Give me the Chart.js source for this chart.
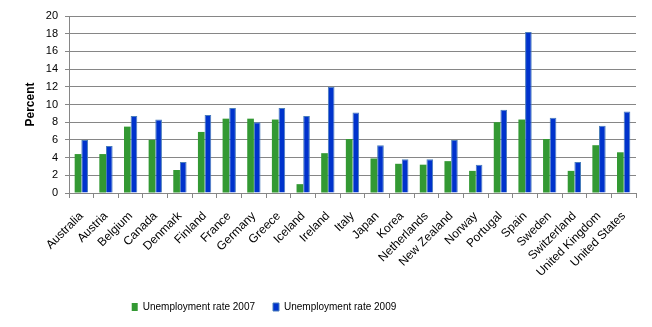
<!DOCTYPE html>
<html>
<head>
<meta charset="utf-8">
<script src="https://cdn.jsdelivr.net/npm/chart.js@4/dist/chart.umd.min.js"></script>
<style>
html,body{margin:0;padding:0;background:#fff;}
#wrap{width:652px;height:327px;position:relative;}
</style>
</head>
<body>
<div id="wrap"><canvas id="c" width="652" height="327"></canvas></div>
<script>
const categories = ["Australia","Austria","Belgium","Canada","Denmark","Finland","France","Germany","Greece","Iceland","Ireland","Italy","Japan","Korea","Netherlands","New Zealand","Norway","Portugal","Spain","Sweden","Switzerland","United Kingdom","United States"];
const rate2007 = [4.4,4.4,7.5,6.0,2.6,6.9,8.4,8.4,8.3,1.0,4.5,6.1,3.9,3.3,3.2,3.6,2.5,8.0,8.3,6.1,2.5,5.4,4.6];
const rate2009 = [6.0,5.3,8.7,8.3,3.5,8.8,9.6,8.0,9.6,8.7,12.0,9.1,5.4,3.8,3.8,6.0,3.2,9.4,18.2,8.5,3.5,7.6,9.2];
const seriesNames = ["Unemployment rate 2007","Unemployment rate 2009"];
const yTicks = {min:0,max:20,step:2};

const FONT = "'Liberation Sans', Arial, sans-serif";
Chart.defaults.font.family = FONT;
Chart.defaults.font.size = 11;
Chart.defaults.color = "#000";

const legendShift = {
  id: 'legendShift',
  afterLayout(chart) {
    const lg = chart.legend;
    if (lg) { lg.left -= 54; lg.right -= 54; }
  }
};

new Chart(document.getElementById('c'), {
  type: 'bar',
  data: {
    labels: categories,
    datasets: [
      {label: seriesNames[0], data: rate2007, backgroundColor: '#339933', borderWidth: 0},
      {label: seriesNames[1], data: rate2009, backgroundColor: '#0033CC', borderColor: '#4A7EBB', borderWidth: 1}
    ]
  },
  plugins: [legendShift],
  options: {
    responsive: false,
    animation: false,
    layout: {padding: {top: 16, right: 16, bottom: 5, left: 0}},
    datasets: {bar: {categoryPercentage: 0.54, barPercentage: 1.0}},
    plugins: {
      legend: {
        position: 'bottom',
        labels: {boxWidth: 6, boxHeight: 8, padding: 18, font: {size: 10, family: FONT}, color: '#000'}
      },
      tooltip: {enabled: false}
    },
    scales: {
      x: {
        grid: {display: true, drawOnChartArea: false, drawTicks: true, tickLength: 5, color: '#868686', offset: true},
        border: {color: '#868686', width: 1},
        ticks: {maxRotation: 45, minRotation: 45, autoSkip: false, padding: 11, font: {size: 12}},
        afterFit: function(s){ s.height = 91; }
      },
      y: {
        min: yTicks.min, max: yTicks.max,
        ticks: {stepSize: yTicks.step, padding: 7, font: {size: 11}},
        grid: {color: '#868686', tickLength: 4, lineWidth: 1},
        border: {color: '#868686', width: 1},
        title: {display: true, text: 'Percent', font: {size: 12, weight: 'bold'}, padding: {top: 23, bottom: 0}},
        afterFit: function(s){ s.width = 69; }
      }
    }
  }
});
</script>
</body>
</html>
